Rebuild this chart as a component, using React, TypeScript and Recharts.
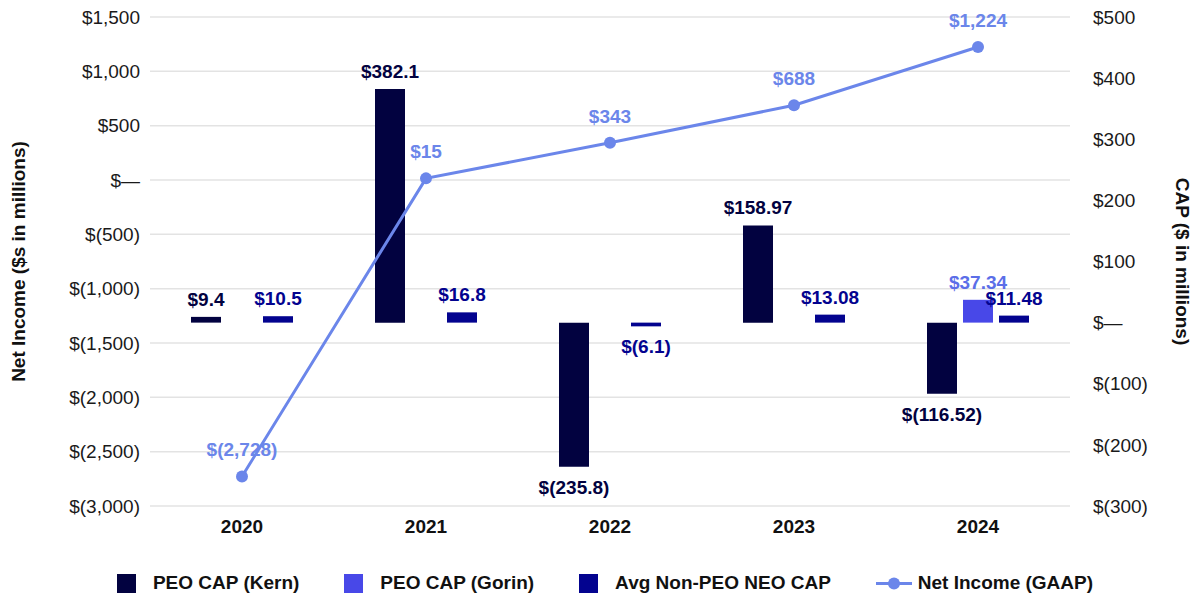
import React from "react";
import { ComposedChart, Bar, Line, XAxis, YAxis, CartesianGrid, Legend, LabelList } from "recharts";

const years = ["2020", "2021", "2022", "2023", "2024"];
const kernCap = [9.4, 382.1, -235.8, 158.97, -116.52];
const gorinCap = [null, null, null, null, 37.34];
const neoCap = [10.5, 16.8, -6.1, 13.08, 11.48];
const netIncome = [-2728, 15, 343, 688, 1224];
const incomeTicks = [-3000, -2500, -2000, -1500, -1000, -500, 0, 500, 1000, 1500];
const capTicks = [-300, -200, -100, 0, 100, 200, 300, 400, 500];

const KERN = "#020240";
const GORIN = "#4848e8";
const NEO = "#03038f";
const LINE = "#6b86ea";
const FONT = "'Liberation Sans', Arial, sans-serif";

const data = years.map((year, i) => ({
  year,
  kern: kernCap[i],
  gorin: gorinCap[i],
  neo: neoCap[i],
  income: netIncome[i],
}));

const money = (v: number, grouped = false) => {
  if (v === 0) return "$—";
  const abs = Math.abs(v);
  const s = grouped ? abs.toLocaleString("en-US") : String(abs);
  return v < 0 ? `$(${s})` : `$${s}`;
};

const barLabel = (color: string) => (props: any) => {
  const { x, y, width, height, value } = props;
  if (value == null) return null;
  const top = Math.min(y, y + height);
  const bottom = Math.max(y, y + height);
  const ty = value >= 0 ? top - 11 : bottom + 27;
  return (
    <text x={x + width / 2} y={ty} textAnchor="middle" fill={color} fontSize={19} fontWeight="bold" fontFamily={FONT}>
      {money(value)}
    </text>
  );
};

const lineLabel = (props: any) => {
  const { x, y, value } = props;
  return (
    <text x={x} y={y - 20} textAnchor="middle" fill={LINE} fontSize={19} fontWeight="bold" fontFamily={FONT}>
      {money(value, true)}
    </text>
  );
};

const legendItems = [
  { label: "PEO CAP (Kern)", color: KERN },
  { label: "PEO CAP (Gorin)", color: GORIN },
  { label: "Avg Non-PEO NEO CAP", color: NEO },
  { label: "Net Income (GAAP)", color: LINE, line: true },
];

const LegendContent = () => (
  <div
    style={{
      display: "flex",
      justifyContent: "center",
      alignItems: "center",
      gap: 45,
      height: 30,
      paddingLeft: 11,
      fontFamily: FONT,
      fontSize: 19,
      fontWeight: "bold",
      color: "#111",
    }}
  >
    {legendItems.map((item) => (
      <div key={item.label} style={{ display: "flex", alignItems: "center" }}>
        {item.line ? (
          <svg width={36} height={19} style={{ marginRight: 6 }}>
            <line x1={0} y1={9.5} x2={36} y2={9.5} stroke={item.color} strokeWidth={3} />
            <circle cx={18} cy={9.5} r={6} fill={item.color} />
          </svg>
        ) : (
          <div style={{ width: 19, height: 19, background: item.color, marginRight: 17 }} />
        )}
        <span>{item.label}</span>
      </div>
    ))}
  </div>
);

const tickStyle = { fontSize: 19, fill: "#1a1a1a", fontFamily: FONT };

export default function App() {
  return (
    <div style={{ position: "absolute", left: 0, top: 0 }}>
      <ComposedChart
        width={1199}
        height={602}
        data={data}
        margin={{ top: 17, right: 0, bottom: 4, left: 0 }}
        barSize={30}
        barGap={6}
      >
        <CartesianGrid yAxisId="left" vertical={false} stroke="#e3e3e3" strokeWidth={1.5} />
        <XAxis
          dataKey="year"
          axisLine={false}
          tickLine={false}
          height={62}
          tickMargin={8}
          tick={{ ...tickStyle, fontWeight: "bold", fill: "#111" }}
        />
        <YAxis
          yAxisId="left"
          domain={[-3000, 1500]}
          ticks={incomeTicks}
          width={150}
          axisLine={false}
          tickLine={false}
          tickMargin={4}
          tick={tickStyle}
          tickFormatter={(v: number) => money(v, true)}
          label={(props: any) => {
            const vb = props.viewBox;
            const cx = 18;
            const cy = vb.y + vb.height / 2;
            return (
              <text x={cx} y={cy} transform={`rotate(-90, ${cx}, ${cy})`} textAnchor="middle" dominantBaseline="central" fontSize={19} fontWeight="bold" fontFamily={FONT} fill="#111">
                Net Income ($s in millions)
              </text>
            );
          }}
        />
        <YAxis
          yAxisId="right"
          orientation="right"
          domain={[-300, 500]}
          ticks={capTicks}
          width={129}
          axisLine={false}
          tickLine={false}
          tickMargin={17}
          tick={tickStyle}
          tickFormatter={(v: number) => money(v)}
          label={(props: any) => {
            const vb = props.viewBox;
            const cx = 1182;
            const cy = vb.y + vb.height / 2;
            return (
              <text x={cx} y={cy} transform={`rotate(90, ${cx}, ${cy})`} textAnchor="middle" dominantBaseline="central" fontSize={19} fontWeight="bold" fontFamily={FONT} fill="#111">
                CAP ($ in millions)
              </text>
            );
          }}
        />
        <Legend verticalAlign="bottom" content={<LegendContent />} />
        <Bar yAxisId="right" dataKey="kern" name="PEO CAP (Kern)" fill={KERN} isAnimationActive={false}>
          <LabelList dataKey="kern" content={barLabel(KERN)} />
        </Bar>
        <Bar yAxisId="right" dataKey="gorin" name="PEO CAP (Gorin)" fill={GORIN} isAnimationActive={false}>
          <LabelList dataKey="gorin" content={barLabel("#5b6ee8")} />
        </Bar>
        <Bar yAxisId="right" dataKey="neo" name="Avg Non-PEO NEO CAP" fill={NEO} isAnimationActive={false}>
          <LabelList dataKey="neo" content={barLabel(NEO)} />
        </Bar>
        <Line
          yAxisId="left"
          dataKey="income"
          name="Net Income (GAAP)"
          stroke={LINE}
          strokeWidth={3}
          dot={{ r: 6, fill: LINE, stroke: LINE, strokeWidth: 0 }}
          isAnimationActive={false}
        >
          <LabelList dataKey="income" content={lineLabel} />
        </Line>
      </ComposedChart>
    </div>
  );
}
